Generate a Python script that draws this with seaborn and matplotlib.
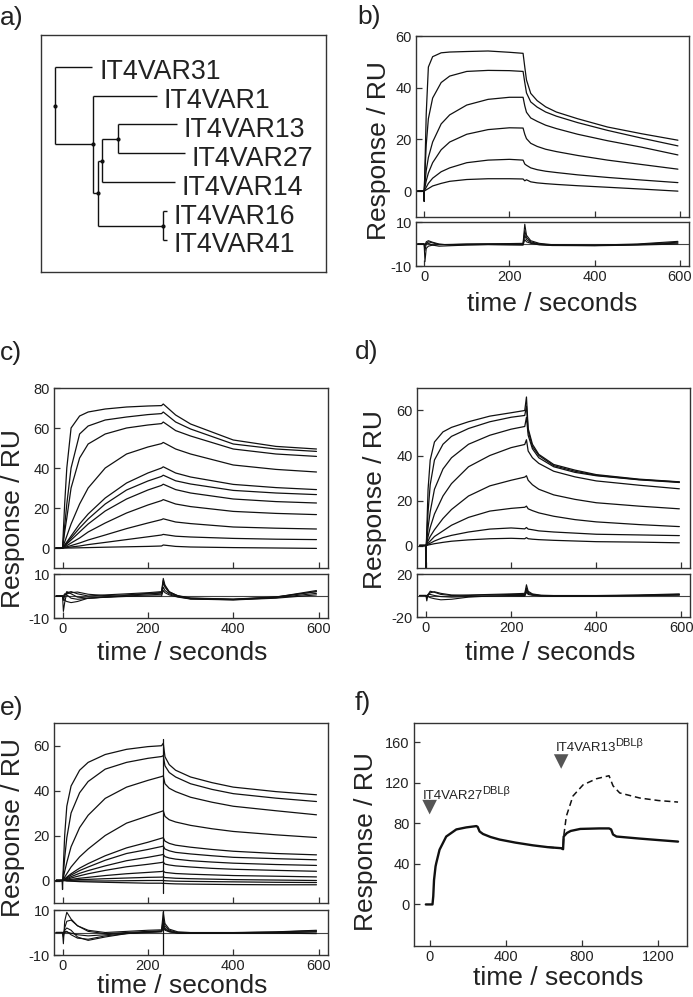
import matplotlib
matplotlib.use("Agg")
import matplotlib.pyplot as plt
import seaborn as sns

W, H = 693, 997

sns.set_style("ticks")
plt.rcParams["font.family"] = ["Liberation Sans", "DejaVu Sans"]
plt.rcParams["axes.unicode_minus"] = False

LINE = "#111111"
TXT = "#222222"

# ---------------- a) tree ----------------
leaf_names = ["IT4VAR31", "IT4VAR1", "IT4VAR13", "IT4VAR27", "IT4VAR14", "IT4VAR16", "IT4VAR41"]
leaf_tip = [37.6, 102, 122, 130.3, 120.3, 112.3, 112.3]
node_names = ["n13_27", "n14", "n16_41", "n2", "n1", "root"]
node_depth = [63.6, 47.6, 108.6, 43.6, 38.6, 0]
node_children = [["IT4VAR13", "IT4VAR27"], ["n13_27", "IT4VAR14"], ["IT4VAR16", "IT4VAR41"],
                 ["n14", "n16_41"], ["IT4VAR1", "n2"], ["IT4VAR31", "n1"]]

# ---------------- b) ----------------
b_time = [-15, -1, 0, 5, 10, 20, 40, 60, 100, 150, 200, 232, 236, 240, 250, 265, 285, 310, 360, 430, 510, 595]
b1 = [0, 0, -4, 30, 48, 52, 53.5, 53.8, 54, 54.2, 53.7, 53.3, 48, 43, 37.8, 35, 32.6, 30.6, 28, 24.8, 22.2, 19.7]
b2 = [0, 0, 0, 18, 28, 36, 42, 44.5, 46.3, 46.7, 46.6, 46.3, 42, 38, 34.5, 32.5, 30.6, 29, 26.5, 23.5, 20.5, 17.5]
b3 = [0, 0, 0, 8, 13, 19, 26, 29.5, 33.3, 35.5, 36.3, 36.3, 33, 30.5, 28.3, 27, 25.5, 24.2, 22, 19.5, 17, 14]
b4 = [0, 0, 0, 4, 7, 11, 16, 19, 22, 23.8, 24.5, 24.4, 22, 20.3, 18.5, 17.3, 16.2, 15.3, 13.8, 12, 10.3, 8.5]
b5 = [0, 0, 0, 1.5, 3, 5, 7.5, 9, 11, 12, 12.3, 12, 10.5, 10, 9, 8.3, 7.7, 7.2, 6.3, 5.3, 4.3, 3.3]
b6 = [0, 0, 0, 0.5, 1, 2, 3, 3.8, 4.5, 4.8, 4.8, 4.7, 4.0, 4.4, 3.6, 3.2, 2.9, 2.6, 2.1, 1.5, 0.8, 0]

# residual time grid shared by b-e
res_time = [-15, 0, 2, 5, 10, 20, 35, 60, 100, 150, 200, 232, 236, 240, 250, 270, 300, 400, 500, 595]
b_r1 = [0, 0, -8, -2, -1, -0.5, -0.3, -0.2, 0, 0.1, 0.2, 0.3, 9, 4, 1.5, 0.3, -0.3, -0.5, 0, 1.2]
b_r2 = [0, 0, -3, 0, 1, 0.5, -0.2, -0.3, -0.1, 0, 0, 0, 6, 3, 1, 0, -0.5, -0.6, -0.2, 0.8]
b_r3 = [0, 0, -1, 1, 1.5, 0.8, 0, -0.5, -0.3, -0.2, -0.3, -0.3, 4, 2, 0.6, -0.2, -0.6, -0.7, -0.3, 0.4]
b_r4 = [0, 0, -0.5, 0.5, 0.3, -0.5, -1, -0.8, -0.5, -0.3, -0.4, -0.5, 2, 1, 0.3, -0.4, -0.7, -0.8, -0.5, 0]

# ---------------- c) ----------------
c_time = [-15, 0, 5, 10, 20, 40, 60, 100, 150, 200, 232, 236, 265, 300, 400, 500, 595]
c1 = [0, 0, 22, 40, 60, 66, 68, 69.5, 70.5, 71, 71.2, 72, 66.5, 62, 54, 50.8, 49.5]
c2 = [0, 0, 11, 22, 40, 57, 61, 64, 65.5, 66.7, 67.2, 68, 63, 59.5, 52, 49.5, 48.3]
c3 = [0, 0, 8, 15, 30, 45, 52, 57, 60, 61.5, 62.2, 63, 58.7, 56, 49.5, 47, 45.8]
c4 = [0, 0, 3, 6, 12, 22, 30, 40, 47, 50.5, 52.2, 52.8, 49.5, 47, 41.5, 39.3, 38]
c5 = [0, 0, 1.5, 3, 6, 12, 17, 25, 32.5, 37.5, 40, 40.6, 37.5, 35.5, 31.8, 30.2, 29.2]
c6 = [0, 0, 1.2, 2.5, 5, 10, 14.5, 22, 29, 33.5, 35.8, 36.4, 33.6, 32, 28.8, 27.5, 26.7]
c7 = [0, 0, 1, 2, 4, 8, 12, 18.5, 24.5, 29, 31.3, 31.9, 29.2, 27.5, 24.5, 23.2, 22.5]
c8 = [0, 0, 0.6, 1.2, 2.5, 5, 8, 12.5, 17.5, 21.5, 23.7, 24.2, 22, 20.7, 18.3, 17.3, 16.7]
c9 = [0, 0, 0.3, 0.6, 1.2, 2.5, 4, 6.5, 9.7, 12.5, 14.2, 14.6, 13, 12.2, 10.5, 9.9, 9.5]
c10 = [0, 0, 0.1, 0.2, 0.5, 1, 1.7, 2.8, 4.2, 5.6, 6.5, 6.8, 5.9, 5.5, 4.8, 4.4, 4.2]
c11 = [0, 0, 0, 0, 0, 0.1, 0.2, 0.4, 0.6, 0.8, 1.0, 1.5, 0.8, 0.5, 0.2, 0, -0.2]
c_r1 = [0, 0, -7, -3, 1.5, 2, 1, 0, 0.5, 1, 1.5, 2, 8, 5, 2, 0, -1, -1.5, -0.5, 2.5]
c_r2 = [0, 0, -2, 0, 2, 1, -0.5, -1, -0.5, 0.3, 1, 1.3, 6, 4, 1.5, 0, -1.2, -1.6, -0.6, 2]
c_r3 = [0, 0, -1, -2, -2.5, -3, -2.5, -1, -0.5, 0, 0.5, 0.8, 4, 2.5, 1, -0.3, -1.3, -1.7, -0.8, 1.2]
c_r4 = [0, 0, 0, 1, 0.5, -1, -1.5, -1, -0.6, -0.2, 0, 0, 2.5, 1.5, 0.5, -0.5, -1.4, -1.8, -1, 0.5]
c_r5 = [0, 0, -0.5, 0.5, 1, 1.5, 1.8, 0.8, 0.2, 0.5, 1.2, 1.6, 7, 4.5, 1.8, 0.2, -0.9, -1.4, -0.4, 2]

# ---------------- d) ----------------
d_time = [-15, -1, 0, 1, 5, 10, 20, 40, 60, 100, 150, 200, 232, 236, 240, 250, 265, 300, 350, 400, 500, 595]
d1 = [0, 0, -10, 1, 25, 38, 46, 50.5, 52.5, 55, 57.5, 59, 60, 66, 52, 45, 40.5, 36, 33.5, 31.5, 29.5, 28.3]
d2 = [0, 0, 0, 0.5, 15, 27, 38, 45, 48.5, 52, 55, 57, 57.8, 62, 51, 44, 40, 35.5, 33, 31.2, 29.3, 28.2]
d3 = [0, 0, 0, 0.3, 8, 15, 25, 34, 39, 45, 49, 51.7, 52.9, 57, 49, 43, 39, 35, 32.5, 31, 29.2, 28]
d4 = [0, 0, 0, 0.2, 4, 8, 14, 22, 27.5, 35, 40, 43.5, 44.9, 47, 42, 39, 36.5, 33, 30.5, 28.7, 26.8, 25.2]
d5 = [0, 0, 0, 0.1, 2, 4, 7, 12, 16, 22, 26.5, 29, 30.4, 31, 29, 27, 25, 22.5, 20.5, 19, 17.5, 16.3]
d6 = [0, 0, 0, 0, 1, 2, 4, 6.5, 9, 12.5, 15.3, 16.5, 17, 17.5, 16.3, 15.5, 14.5, 13, 11.5, 10.5, 9.3, 8.4]
d7 = [0, 0, 0, 0, 0.5, 1, 2, 3.5, 4.5, 6, 7.3, 7.8, 7.4, 8, 7.3, 7, 6.5, 6, 5.5, 5, 4.7, 4.4]
d8 = [0, 0, 0, 0, 0.2, 0.4, 0.8, 1.4, 1.9, 2.5, 3, 3.2, 3, 3.5, 3, 2.8, 2.6, 2.3, 2, 1.7, 1.5, 1.2]
d_r1 = [0, 0, -5, 1, 4, 3, 1, 0, 0.5, 1, 1.5, 2, 10, 4, 1.5, 0.3, 0, 0, 0.5, 1.5]
d_r2 = [0, 0, -2, 0, 2.5, 3.5, 2, 0.5, 0, 0.5, 1, 1, 7, 3, 1, 0, -0.3, -0.3, 0.2, 1]
d_r3 = [0, 0, -1, -1, -2, -3, -4, -3.5, -1.5, -0.5, 0, 0, 5, 2, 0.5, -0.3, -0.5, -0.5, 0, 0.6]
d_r4 = [0, 0, 0, 1, 1, 0, -1, -1.5, -1, -0.5, -0.5, -0.7, 3, 1, 0.2, -0.5, -0.7, -0.6, -0.2, 0.3]

# ---------------- e) ----------------
e_time = [-15, -1, 0, 1, 5, 10, 20, 40, 60, 100, 150, 200, 232, 236, 240, 250, 265, 300, 350, 400, 500, 595]
e1 = [0, 0, -4, 2, 20, 33, 42, 49, 52.5, 56, 58.3, 59.5, 59.9, 61, 55, 51.5, 49, 46, 43.5, 41.5, 39.5, 38.1]
e2 = [0, 0, 0, 1, 10, 19, 30, 39, 44, 49.5, 52.5, 54.3, 55.1, 55.5, 51, 48, 46, 43, 40.5, 38.6, 36.6, 35.1]
e3 = [0, 0, 0, 0.5, 4, 8, 15, 23.5, 29, 36.5, 41.5, 44.5, 46.2, 46.5, 43, 41, 39.5, 37, 34.8, 33, 31, 29.2]
e4 = [0, 0, 0, 0.2, 1.5, 3, 6, 10.5, 14, 20, 25.5, 28.7, 30.7, 31, 28.5, 27, 26, 24.5, 23, 21.8, 20.3, 19.1]
e5 = [0, 0, 0, 0.1, 0.7, 1.5, 3, 5.5, 7.5, 11, 14.5, 17, 18.8, 19, 17.5, 16.5, 15.7, 14.8, 13.8, 13, 12, 11.4]
e6 = [0, 0, 0, 0, 0.6, 1.2, 2.4, 4.4, 6, 9, 12, 13.8, 15.1, 15.3, 14, 13.2, 12.5, 11.8, 11, 10.3, 9.7, 9.2]
e7 = [0, 0, 0, 0, 0.4, 0.8, 1.7, 3.2, 4.4, 6.5, 8.8, 10.3, 11.4, 11.6, 10.6, 10, 9.5, 8.8, 8.2, 7.7, 7.1, 6.7]
e8 = [0, 0, 0, 0, 0.3, 0.5, 1.1, 2.1, 3, 4.5, 6.1, 7.2, 8, 8.2, 7.3, 6.9, 6.5, 6, 5.4, 5, 4.5, 4.1]
e9 = [0, 0, 0, 0, 0.1, 0.2, 0.5, 1, 1.4, 2.2, 3, 3.6, 4, 4.2, 3.6, 3.4, 3.1, 2.8, 2.5, 2.2, 1.9, 1.6]
e10 = [0, 0, 0, 0, 0, 0.1, 0.2, 0.4, 0.5, 0.8, 1.1, 1.4, 1.5, 1.6, 1.3, 1.2, 1, 0.8, 0.6, 0.4, 0.2, 0]
e11 = [0, 0, 0, 0, 0, -0.1, -0.1, -0.2, -0.2, -0.2, -0.1, 0, 0, 0, -0.1, -0.2, -0.3, -0.4, -0.5, -0.6, -0.8, -0.9]
e12 = [0, 0, 0, 0, 0, -0.2, -0.3, -0.5, -0.6, -0.8, -1, -1.2, -1.2, -1.3, -1.3, -1.4, -1.5, -1.6, -1.7, -1.8, -1.9, -1.9]
e_spike_t = [236, 236]
e_spike_y = [-5.6, 62.8]
e_r1 = [0, 0, -5, 5, 9, 6, 3, 1, 0, 0.5, 1, 1.2, 9, 4, 1.5, 0.3, 0, 0, 0.3, 1]
e_r2 = [0, 0, -2, 2, 5, 5.5, 3, 0.5, -0.5, 0, 0.5, 0.8, 6, 3, 1, 0, -0.2, -0.1, 0.2, 0.8]
e_r3 = [0, 0, -1, 1, 2, 1, -2, -3.5, -2, -0.5, 0.3, 0.5, 4, 2, 0.5, -0.2, -0.3, -0.2, 0, 0.4]
e_r4 = [0, 0, 0, 0.5, 0.5, -1, -2.5, -3, -1.5, -0.5, 0, 0.3, 2, 1, 0.3, -0.3, -0.4, -0.3, -0.3, -0.5]
e_r5 = [0, 0, 0, 0, 0.2, -0.3, -1, -1.5, -1, -0.3, 0.2, 0.4, 3, 1.5, 0.4, -0.2, -0.3, -0.2, -0.1, 0.2]
e_res_spike_y = [-10, 10]

# ---------------- f) ----------------
f_time = [-20, 15, 19, 23, 31, 35, 52, 87, 140, 192, 245, 252, 262, 280, 320, 367, 450, 542, 620, 690,
          700, 703, 720, 740, 790, 890, 941, 952, 962, 980, 1100, 1200, 1303]
f_solid = [0, 0, 8, 24, 37.5, 41, 54, 67, 74, 76, 77.3, 76.5, 72, 69.5, 66.5, 64, 61, 58.3, 56.5, 55.5,
           54.5, 67, 70.5, 72.5, 74.5, 75, 75, 74, 69, 67, 65, 63.5, 62]
f_dash_time = [620, 690, 700, 703, 717, 752, 805, 875, 941, 962, 997, 1102, 1200, 1303]
f_dash = [56.5, 55.5, 54.5, 67, 87, 107, 118, 124, 127, 117, 110, 105, 102.5, 101]
f_inject_t = [0, 690]
f_inject_y = [96, 141]
f_labels = ["IT4VAR27", "IT4VAR13"]
f_label_sup = "DBLβ"
f_label_t = [-35, 659]
f_label_y = [104.5, 151]


def add_ax(x0, y0, x1, y1):
    return fig.add_axes([x0 / W, 1 - y1 / H, (x1 - x0) / W, (y1 - y0) / H])


def style(ax):
    for s in ax.spines.values():
        s.set_linewidth(1.0)
        s.set_color("#333333")
    ax.tick_params(direction="in", length=4, width=0.9, color="#333333",
                   labelcolor=TXT, labelsize=10.5, pad=3)
    ax.set_xlabel("")
    ax.set_ylabel("")


def sensorgram(box, split, t, curves, res, xlim, ylim, yticks, rlim, spike=None, rspike=None):
    x0, y0, x1, y1 = box
    ax = add_ax(x0, y0, x1, split[0])
    axr = add_ax(x0, split[1], x1, y1)
    for y in curves:
        sns.lineplot(x=t, y=y, ax=ax, color=LINE, lw=0.9, estimator=None, sort=False)
    if spike is not None:
        sns.lineplot(x=spike[0], y=spike[1], ax=ax, color=LINE, lw=0.9, estimator=None, sort=False)
    axr.axhline(0, color="#444444", lw=0.8)
    for r in res:
        sns.lineplot(x=res_time, y=r, ax=axr, color=LINE, lw=0.8, estimator=None, sort=False)
    if rspike is not None:
        sns.lineplot(x=spike[0], y=rspike, ax=axr, color=LINE, lw=0.9, estimator=None, sort=False)
    ax.set_xlim(xlim)
    ax.set_ylim(ylim)
    ax.set_yticks(yticks)
    ax.set_xticks([0, 200, 400, 600])
    ax.set_xticklabels([])
    axr.set_xlim(xlim)
    axr.set_ylim(-rlim, rlim)
    axr.set_yticks([-rlim, rlim])
    axr.set_xticks([0, 200, 400, 600])
    style(ax)
    style(axr)
    return ax, axr


fig = plt.figure(figsize=(W / 100, H / 100), dpi=100)

# a) tree
axa = add_ax(41, 35, 326, 272)
ypos = {n: i for i, n in enumerate(leaf_names)}
xpos = dict(zip(leaf_names, leaf_tip))
for n, d, ch in zip(node_names, node_depth, node_children):
    ys = [ypos[c] for c in ch]
    ypos[n] = sum(ys) / len(ys)
    xpos[n] = d
    axa.plot([d, d], [min(ys), max(ys)], color=LINE, lw=1.0, solid_capstyle="butt")
    for c in ch:
        axa.plot([d, xpos[c]], [ypos[c], ypos[c]], color=LINE, lw=1.0, solid_capstyle="butt")
    axa.plot([d], [ypos[n]], "o", color=LINE, ms=2)
for i, n in enumerate(leaf_names):
    axa.text(leaf_tip[i] + 7, i + 0.43, n, fontsize=19.3, color=TXT, ha="left", va="baseline")
axa.set_xlim(-13.7, 271.3)
axa.set_ylim(7.107, -1.097)
axa.set_xticks([])
axa.set_yticks([])
style(axa)

# b) - e)
sensorgram((416, 36, 689, 266), (217, 222), b_time, [b1, b2, b3, b4, b5, b6],
           [b_r1, b_r2, b_r3, b_r4], (-19, 621), (-10, 60), [0, 20, 40, 60], 10)
sensorgram((54, 388, 328, 618), (568, 574), c_time, [c1, c2, c3, c4, c5, c6, c7, c8, c9, c10, c11],
           [c_r1, c_r2, c_r3, c_r4, c_r5], (-20, 622), (-10, 80), [0, 20, 40, 60, 80], 10)
sensorgram((417, 388, 690, 617), (568, 574), d_time, [d1, d2, d3, d4, d5, d6, d7, d8],
           [d_r1, d_r2, d_r3, d_r4], (-21, 620), (-10, 70), [0, 20, 40, 60], 20)
sensorgram((54, 723, 328, 955), (903, 910), e_time, [e1, e2, e3, e4, e5, e6, e7, e8, e9, e10, e11, e12],
           [e_r1, e_r2, e_r3, e_r4, e_r5], (-20, 622), (-10, 70), [0, 20, 40, 60], 10,
           spike=(e_spike_t, e_spike_y), rspike=e_res_spike_y)

# f)
axf = add_ax(414, 723, 687, 946)
sns.lineplot(x=f_time, y=f_solid, ax=axf, color=LINE, lw=1.7, estimator=None, sort=False)
sns.lineplot(x=f_dash_time, y=f_dash, ax=axf, color=LINE, lw=1.1, estimator=None, sort=False,
             linestyle=(0, (4, 2.5)))
sns.scatterplot(x=f_inject_t, y=f_inject_y, ax=axf, marker="v", s=110, color="#555555", edgecolor="none")
for lab, tx, ty in zip(f_labels, f_label_t, f_label_y):
    main = axf.text(tx, ty, lab, fontsize=9.5, color=TXT, ha="left", va="baseline")
    axf.annotate(f_label_sup, xy=(1, 0.5), xycoords=main, xytext=(-0.5, 0), textcoords="offset points",
                 fontsize=8, color=TXT, ha="left", va="bottom")
axf.set_xlim(-82, 1350)
axf.set_ylim(-41, 179)
axf.set_xticks([0, 400, 800, 1200])
axf.set_yticks([0, 40, 80, 120, 160])
style(axf)

# panel letters
for lab, x, y in [("a)", 0, 18), ("b)", 357, 17), ("c)", 0, 353), ("d)", 355, 352), ("e)", 0, 708), ("f)", 355, 703)]:
    fig.text(x / W, 1 - y / H, lab, fontsize=19, color=TXT, ha="left", va="center")

# axis labels
for x, y in [(379, 151), (13, 519), (375, 500), (13, 828), (366, 842)]:
    fig.text(x / W, 1 - y / H, "Response / RU", fontsize=19, color=TXT, rotation=90, ha="center", va="center")
for x, y in [(552, 311), (182, 660), (550, 660), (182, 993), (558, 985)]:
    fig.text(x / W, 1 - y / H, "time / seconds", fontsize=19, color=TXT, ha="center", va="baseline")

fig.savefig("out.png", dpi=100)
